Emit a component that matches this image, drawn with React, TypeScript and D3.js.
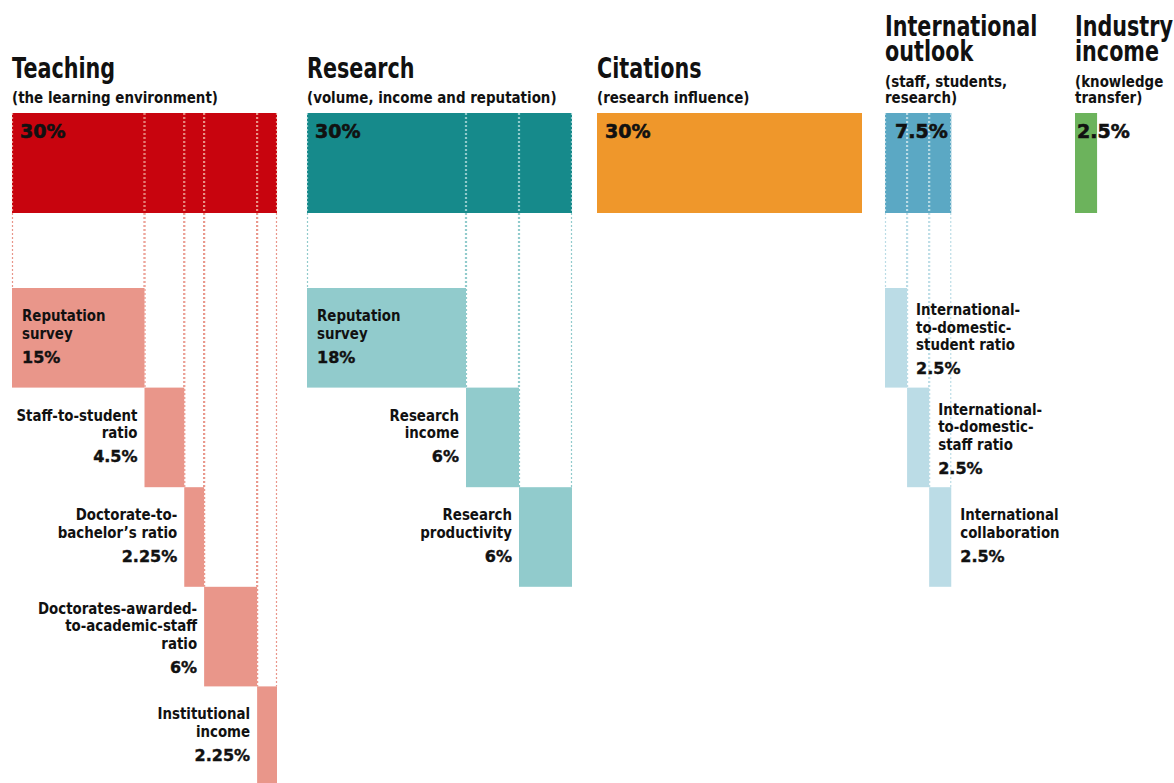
import React from "react";
import * as d3 from "d3";

// ---------- data ----------
const categories = ["Teaching", "Research", "Citations", "International outlook", "Industry income"];
const categoryTitleLines = [["Teaching"], ["Research"], ["Citations"], ["International", "outlook"], ["Industry", "income"]];
const categorySubtitleLines = [
  ["(the learning environment)"],
  ["(volume, income and reputation)"],
  ["(research influence)"],
  ["(staff, students,", "research)"],
  ["(knowledge", "transfer)"],
];
const categoryWeights = [30, 30, 30, 7.5, 2.5];
const categoryWeightLabels = ["30%", "30%", "30%", "7.5%", "2.5%"];

const subCategory = [0, 0, 0, 0, 0, 1, 1, 1, 3, 3, 3];
const subLabelLines = [
  ["Reputation", "survey"],
  ["Staff-to-student", "ratio"],
  ["Doctorate-to-", "bachelor\u2019s ratio"],
  ["Doctorates-awarded-", "to-academic-staff", "ratio"],
  ["Institutional", "income"],
  ["Reputation", "survey"],
  ["Research", "income"],
  ["Research", "productivity"],
  ["International-", "to-domestic-", "student ratio"],
  ["International-", "to-domestic-", "staff ratio"],
  ["International", "collaboration"],
];
const subWeights = [15, 4.5, 2.25, 6, 2.25, 18, 6, 6, 2.5, 2.5, 2.5];
const subWeightLabels = ["15%", "4.5%", "2.25%", "6%", "2.25%", "18%", "6%", "6%", "2.5%", "2.5%", "2.5%"];

// ---------- layout / style ----------
const W = 1174;
const H = 783;
const groupX = [12, 307, 597, 885, 1075];
const mainColors = ["#c8040e", "#168a8b", "#ef972b", "#5ba8c4", "#6cb35c"];
const subColors = ["#e9968a", "#91cbcc", "#f5c58a", "#bbdce6", "#b5d9ad"];
const topBarY = 113;
const topBarH = 100;
const rowTop = 288;
const rowStep = 99.6;

const TITLE_FONT = "'DejaVu Sans', sans-serif";
const SUB_FONT = "'DejaVu Sans', sans-serif";
const LABEL_FONT = "'DejaVu Sans Condensed', 'DejaVu Sans', sans-serif";
const PCT_FONT = "'DejaVu Sans', sans-serif";
const INK = "#111";

function SText(props: {
  x: number;
  y: number;
  sx: number;
  anchor?: string;
  size: number;
  family: string;
  stroke?: number;
  children: React.ReactNode;
}) {
  const { x, y, sx, anchor, size, family, stroke, children } = props;
  return (
    <text
      transform={`translate(${x},${y}) scale(${sx},1)`}
      textAnchor={anchor ?? "start"}
      fontFamily={family}
      fontWeight="bold"
      fontSize={size}
      fill={INK}
      stroke={stroke ? INK : undefined}
      strokeWidth={stroke}
    >
      {children}
    </text>
  );
}

export default function App() {
  const x = d3.scaleLinear().domain([0, 30]).range([0, 265]);
  const rowY = d3.scaleLinear().domain([0, 1]).range([rowTop, rowTop + rowStep]);

  const cum: Record<number, number> = {};
  const rowIdx: Record<number, number> = {};
  const subs = subWeights.map((w, i) => {
    const g = subCategory[i];
    const start = cum[g] ?? 0;
    cum[g] = start + w;
    const r = rowIdx[g] ?? 0;
    rowIdx[g] = r + 1;
    const x0 = groupX[g] + x(start);
    const x1 = groupX[g] + x(start + w);
    const y0 = rowY(r);
    return { i, g, r, x0, x1, y0, y1: rowY(r + 1) };
  });

  const placement = (s: { g: number; r: number }) =>
    s.g === 3 ? "right" : s.r === 0 ? "inside" : "left";

  return (
    <svg
      width={W}
      height={H}
      style={{ position: "absolute", left: 0, top: 0, background: "#fff" }}
      xmlns="http://www.w3.org/2000/svg"
    >
      <rect width={W} height={H} fill="#fff" />
      {/* titles */}
      {categories.map((c, g) => {
        const tl = categoryTitleLines[g];
        const sl = categorySubtitleLines[g];
        const titleBase = tl.length === 1 ? 78 : 36;
        const subBase = sl.length === 1 ? 103 : 87;
        return (
          <g key={c}>
            {tl.map((t, k) => (
              <SText key={k} x={groupX[g]} y={titleBase + k * 25} sx={0.715} size={29} family={TITLE_FONT}>
                {t}
              </SText>
            ))}
            {sl.map((t, k) => (
              <SText key={k} x={groupX[g]} y={subBase + k * 15.5} sx={0.84} size={16} family={SUB_FONT}>
                {t}
              </SText>
            ))}
          </g>
        );
      })}

      {/* top bars */}
      {categoryWeights.map((w, g) => (
        <rect key={g} x={groupX[g]} y={topBarY} width={x(w)} height={topBarH} fill={mainColors[g]} />
      ))}

      {/* sub bars */}
      {subs.map((s) => (
        <rect
          key={s.i}
          x={s.x0}
          y={s.y0}
          width={s.x1 - s.x0}
          height={s.y1 - s.y0}
          fill={subColors[s.g]}
        />
      ))}

      {/* dotted guide lines */}
      {subs.map((s) => (
        <g key={"l" + s.i}>
          {[s.x0, s.x1].map((lx, k) => (
            <line
              key={k}
              x1={lx + (k === 0 ? 0.5 : -0.5)}
              x2={lx + (k === 0 ? 0.5 : -0.5)}
              y1={topBarY}
              y2={s.y0}
              stroke={subColors[s.g]}
              strokeWidth={1.2}
              strokeDasharray="2,2"
            />
          ))}
        </g>
      ))}

      {/* top bar labels */}
      {categoryWeightLabels.map((t, g) => (
        <SText
          key={g}
          x={groupX[g] + (g === 3 ? 10 : g === 4 ? 2 : 8)}
          y={138}
          sx={1}
          size={19}
          family={PCT_FONT}
          stroke={0.6}
        >
          {t}
        </SText>
      ))}

      {/* sub labels */}
      {subs.map((s) => {
        const lines = subLabelLines[s.i];
        const n = lines.length;
        const place = placement(s);
        const first = s.y0 + (n === 2 ? 33 : 27);
        const step = 17.5;
        const lx = place === "inside" ? s.x0 + 10 : place === "left" ? s.x0 - 7 : s.x1 + 9;
        const anchor = place === "left" ? "end" : "start";
        return (
          <g key={"t" + s.i}>
            {lines.map((t, k) => (
              <SText key={k} x={lx} y={first + k * step} sx={0.93} anchor={anchor} size={16} family={LABEL_FONT}>
                {t}
              </SText>
            ))}
            <SText
              x={lx}
              y={first + (n - 1) * step + 24}
              sx={1}
              anchor={anchor}
              size={16}
              family={PCT_FONT}
              stroke={0.4}
            >
              {subWeightLabels[s.i]}
            </SText>
          </g>
        );
      })}
    </svg>
  );
}
